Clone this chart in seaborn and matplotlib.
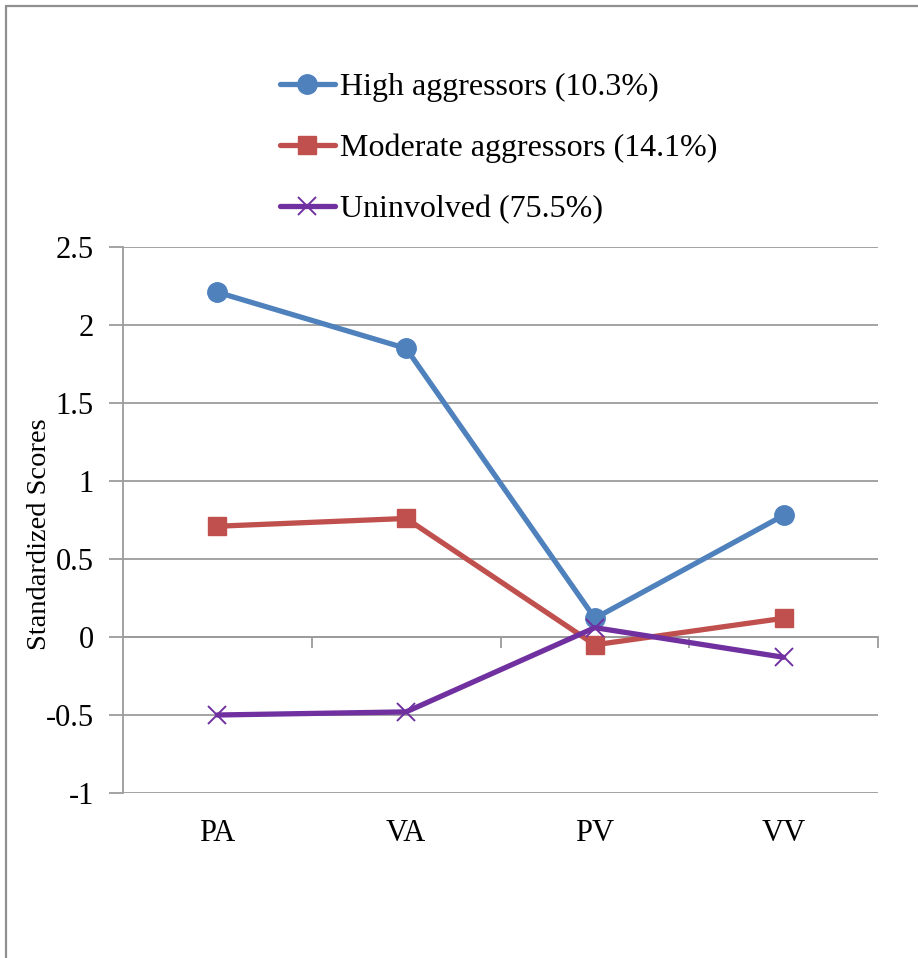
import matplotlib
matplotlib.use("Agg")
import matplotlib.pyplot as plt
from matplotlib.lines import Line2D
import seaborn as sns
import pandas as pd

categories = ["PA", "VA", "PV", "VV"]
high = [2.21, 1.85, 0.12, 0.78]
moderate = [0.71, 0.76, -0.05, 0.12]
uninvolved = [-0.50, -0.48, 0.06, -0.13]
series_names = ["High aggressors (10.3%)", "Moderate aggressors (14.1%)", "Uninvolved (75.5%)"]
y_ticks = [-1, -0.5, 0, 0.5, 1, 1.5, 2, 2.5]
y_tick_labels = ["-1", "-0.5", "0", "0.5", "1", "1.5", "2", "2.5"]

sns.set_theme(style="white")
plt.rcParams["font.family"] = ["Liberation Serif", "DejaVu Serif"]
plt.rcParams["text.color"] = "black"
plt.rcParams["axes.labelcolor"] = "black"

grid_color = "#9c9c9c"
colors = ["#4F81BD", "#C0504D", "#7030A0"]
marker_styles = [
    dict(marker="o", markersize=14, markeredgewidth=1),
    dict(marker="s", markersize=13.5, markeredgewidth=1),
    dict(marker="x", markersize=13, markeredgewidth=1.4),
]

fig = plt.figure(figsize=(9.18, 9.58), dpi=100)
ax = fig.add_axes([123 / 918, 1 - 793 / 958, (878 - 123) / 918, (793 - 247) / 958])

for name, vals, col, ms in zip(series_names, [high, moderate, uninvolved], colors, marker_styles):
    df = pd.DataFrame({"category": categories, "score": vals})
    sns.lineplot(data=df, x="category", y="score", ax=ax, sort=False, color=col,
                 linewidth=3.8, markerfacecolor=col, markeredgecolor=col,
                 label=name, zorder=3, **ms)

ax.set_xlim(-0.5, 3.5)
ax.set_ylim(-1, 2.5)
ax.set_yticks(y_ticks)
ax.set_yticklabels(y_tick_labels)
ax.set_xticks(range(len(categories)))
ax.set_xticklabels(categories)
ax.set_xlabel("")
ax.set_ylabel("Standardized Scores", fontsize=20.5)
ax.yaxis.set_label_coords(-0.094, 0.474)

for side in ["top", "right", "bottom"]:
    ax.spines[side].set_visible(False)
ax.spines["left"].set_color(grid_color)
ax.spines["left"].set_linewidth(1.3)

ax.yaxis.grid(True, color=grid_color, linewidth=1.3)
ax.set_axisbelow(True)
ax.tick_params(axis="y", direction="out", length=10, width=1.3, color=grid_color,
               labelcolor="black", labelsize=22, pad=11, left=True)
ax.tick_params(axis="x", length=0, labelsize=22, pad=19, labelcolor="black")

# horizontal category axis crossing at zero, with ticks between categories
zero_frac = (0 - (-1)) / (2.5 - (-1))
sec = ax.secondary_xaxis(zero_frac)
sec.set_xticks([0.5, 1.5, 2.5, 3.5])
sec.tick_params(axis="x", direction="out", length=8, width=1.3, color=grid_color,
                labelbottom=False, labeltop=False, bottom=True, top=False)
sec.spines["bottom"].set_visible(True)
sec.spines["bottom"].set_color(grid_color)
sec.spines["bottom"].set_linewidth(1.3)
for s in ["top", "left", "right"]:
    if s in sec.spines:
        sec.spines[s].set_visible(False)

leg = ax.legend(loc="upper left", bbox_to_anchor=(280 / 918, 1 - 73 / 958),
                bbox_transform=fig.transFigure, frameon=False, fontsize=23,
                handlelength=1.72, handletextpad=0.15, labelspacing=0.98,
                borderaxespad=0, borderpad=0)
for t in leg.get_texts():
    t.set_color("black")

# outer frame (left and top edges)
fig.add_artist(Line2D([6 / 918, 6 / 918], [0, 1 - 6 / 958], transform=fig.transFigure,
                      color="#8f8f8f", linewidth=1.6))
fig.add_artist(Line2D([6 / 918, 1], [1 - 6 / 958, 1 - 6 / 958], transform=fig.transFigure,
                      color="#8f8f8f", linewidth=1.6))

fig.savefig("out.png", dpi=100)
